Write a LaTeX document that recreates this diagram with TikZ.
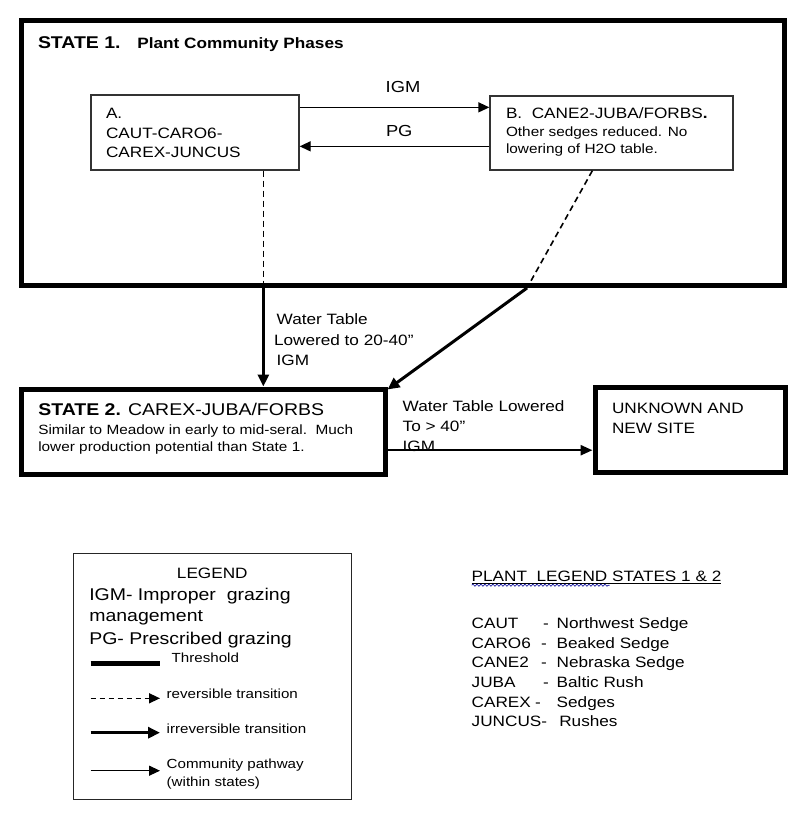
\documentclass[tikz,border=0pt]{standalone}
\usepackage{fontspec}
\setmainfont{Liberation Sans}[FakeStretch=1.146]
\usetikzlibrary{arrows.meta,calc,decorations.pathmorphing}
\tikzset{
  thickbox/.style={draw=black, line width=5pt, inner sep=0pt, fill=white},
  thinbox/.style={draw=black!80, line width=1.3pt, inner sep=0pt, fill=white},
  legbox/.style={draw=black!85, line width=1.3pt, inner sep=0pt},
  txt/.style={anchor=base west, inner sep=0pt, outer sep=0pt},
  ctxt/.style={anchor=base, inner sep=0pt, outer sep=0pt},
  fA/.style={font=\fontsize{15}{18}\selectfont},
  fS/.style={font=\fontsize{13.4}{16}\selectfont},
  fL/.style={font=\fontsize{17}{20}\selectfont},
  fM/.style={font=\fontsize{16}{19}\selectfont},
  fT/.style={font=\fontsize{13.2}{16}\selectfont},
  pathway/.style={line width=1.3pt, -{Triangle[length=11pt,width=10pt]}},
  irrev/.style={line width=3pt, -{Triangle[length=12pt,width=11pt]}},
  revers/.style={line width=1.6pt, dash pattern=on 6pt off 4pt},
  thresh/.style={line width=4.5pt},
}
\begin{document}
\begin{tikzpicture}[x=1pt,y=-1pt]
\useasboundingbox[fill=white] (0,0) rectangle (800,818);

% ---------- State 1 ----------
\node[thickbox, minimum width=763pt, minimum height=265pt] (S1) at (403,153) {};
\node[txt, font=\bfseries\fontsize{17}{20}\selectfont] (s1t) at (38,48.3) {STATE 1.};
\node[txt, font=\bfseries\fontsize{15}{18}\selectfont] (s1s) at (137.3,48.3) {Plant Community Phases};

\node[thinbox, minimum width=208pt, minimum height=75pt] (A) at (195,132.5) {};
\node[txt, fA] (a1) at (106,119) {A.};
\node[txt, fA] (a2) at (106,138.3) {CAUT-CARO6-};
\node[txt, fA] (a3) at (106,158) {CAREX-JUNCUS};

\node[thinbox, minimum width=243pt, minimum height=74pt] (B) at (611.5,133) {};
\node[txt, fA] (b1) at (506,119) {B.\ \ CANE2-JUBA/FORBS\textbf{.}};
\node[txt, fS] (b2) at (506,136.7) {Other sedges reduced. No};
\node[txt, fS] (b3) at (506,153.3) {lowering of H2O table.};

\draw[pathway] ($(A.north east)+(0,13)$) -- ($(B.north west)+(0,12)$);
\draw[pathway] ($(B.north west)+(0,51)$) -- ($(A.north east)+(0,52)$);
\node[ctxt, fM] (igm1) at (403,93) {IGM};
\node[txt, fM] (pg1) at (386,136.7) {PG};

% ---------- State 2 ----------
\node[thickbox, minimum width=363.5pt, minimum height=85pt] (S2) at (203.25,431.5) {};
\node[txt, fL] (s2t) at (38.3,415.7) {\textbf{STATE 2.} CAREX-JUBA/FORBS};
\node[txt, fS] (s2a) at (38.3,434) {Similar to Meadow in early to mid-seral.\ \ Much};
\node[txt, fS] (s2b) at (38.3,451.7) {lower production potential than State 1.};

\node[thickbox, minimum width=190pt, minimum height=84.5pt] (U) at (690,429.75) {};
\node[txt, fA] (u1) at (612,413.3) {UNKNOWN AND};
\node[txt, fA] (u2) at (612,433.3) {NEW SITE};

% transitions State 1 -> State 2
\coordinate (da) at ($(A.south west)+(173,0)$);
\coordinate (ta) at (da |- S1.south);
\draw[revers] (da) -- (ta);
\draw[irrev] (ta) -- (ta |- S2.north);

\coordinate (db) at ($(B.south west)+(103,0)$);
\coordinate (tb) at ($(S1.south)+(124,0)$);
\draw[revers] (db) -- (tb);
\draw[irrev] (tb) -- ($(S2.north east)+(0,3)$);

\node[txt, fA] (w1) at (276.7,324.3) {Water Table};
\node[txt, fA] (w2) at (274,345) {Lowered to 20-40”};
\node[txt, fA] (w3) at (276.7,365) {IGM};

% State 2 -> Unknown
\draw[line width=2.5pt, -{Triangle[length=12pt,width=10pt]}] ($(S2.north east)+(0,63.7)$) -- ($(U.north west)+(0,65.2)$);
\node[txt, fA] (x1) at (402.7,411) {Water Table Lowered};
\node[txt, fA] (x2) at (402.7,431) {To > 40”};
\node[txt, fA] (x3) at (402.7,451.7) {IGM};

% ---------- Legend ----------
\node[legbox, minimum width=278.4pt, minimum height=246pt] (L) at (212.5,676.3) {};
\node[ctxt, fA] (lt) at (212.3,578.3) {LEGEND};
\node[txt, fL] (l1) at (89.3,600) {IGM- Improper\ \ grazing};
\node[txt, fL] (l2) at (89.3,621.7) {management};
\node[txt, fL] (l3) at (89.3,644) {PG- Prescribed grazing};

\coordinate (t0) at (90.7,663.3); \coordinate (t1) at (160,663.3);
\draw[thresh] (t0) -- (t1);
\node[txt, fT] (lth) at (171.7,662.7) {Threshold};

\coordinate (r0) at (90.7,698.3); \coordinate (r1) at (160,698.3);
\draw[line width=1.4pt, dash pattern=on 5pt off 4pt] (r0) -- ($(r1)+(-11,0)$);
\draw[line width=1.4pt, -{Triangle[length=11pt,width=10pt]}] ($(r1)+(-11.5,0)$) -- (r1);
\node[txt, fT] (lrv) at (166.7,698) {reversible transition};

\coordinate (i0) at (90.7,732.7); \coordinate (i1) at (160,732.7);
\draw[irrev] (i0) -- (i1);
\node[txt, fT] (lir) at (166.7,733) {irreversible transition};

\coordinate (c0) at (90.7,770.7); \coordinate (c1) at (160,770.7);
\draw[pathway] (c0) -- (c1);
\node[txt, fT] (lc1) at (166.7,768.3) {Community pathway};
\node[txt, fT] (lc2) at (166.7,786.7) {(within states)};

% ---------- Plant legend ----------
\node[txt, fA] (ph) at (471.7,581.7) {PLANT\ \ LEGEND STATES 1 \& 2};
\draw[line width=0.8pt] ($(ph.base west)+(0,2)$) -- ($(ph.base east)+(0,2)$);
\draw[blue!60!black, line width=0.6pt, decorate, decoration={snake, amplitude=1.1pt, segment length=4pt}] ($(ph.base west)+(0,3.5)$) -- ($(ph.base west)+(138,3.5)$);

\node[txt, fA] (p1a) at (471.7,628.3) {CAUT};   \node[txt, fA] (p1b) at (543,628.3) {-}; \node[txt, fA] (p1c) at (556.7,628.3) {Northwest Sedge};
\node[txt, fA] (p2a) at (471.7,648)   {CARO6};  \node[txt, fA] (p2b) at (541,648)   {-}; \node[txt, fA] (p2c) at (556.7,648)   {Beaked Sedge};
\node[txt, fA] (p3a) at (471.7,667.7) {CANE2};  \node[txt, fA] (p3b) at (541,667.7) {-}; \node[txt, fA] (p3c) at (556.7,667.7) {Nebraska Sedge};
\node[txt, fA] (p4a) at (471.7,687.4) {JUBA};   \node[txt, fA] (p4b) at (543,687.4) {-}; \node[txt, fA] (p4c) at (556.7,687.4) {Baltic Rush};
\node[txt, fA] (p5a) at (471.7,707.1) {CAREX};  \node[txt, fA] (p5b) at (535,707.1) {-}; \node[txt, fA] (p5c) at (556.7,707.1) {Sedges};
\node[txt, fA] (p6a) at (471.7,726.8) {JUNCUS-}; \node[txt, fA] (p6c) at (559.3,726.8) {Rushes};
\end{tikzpicture}
\end{document}
